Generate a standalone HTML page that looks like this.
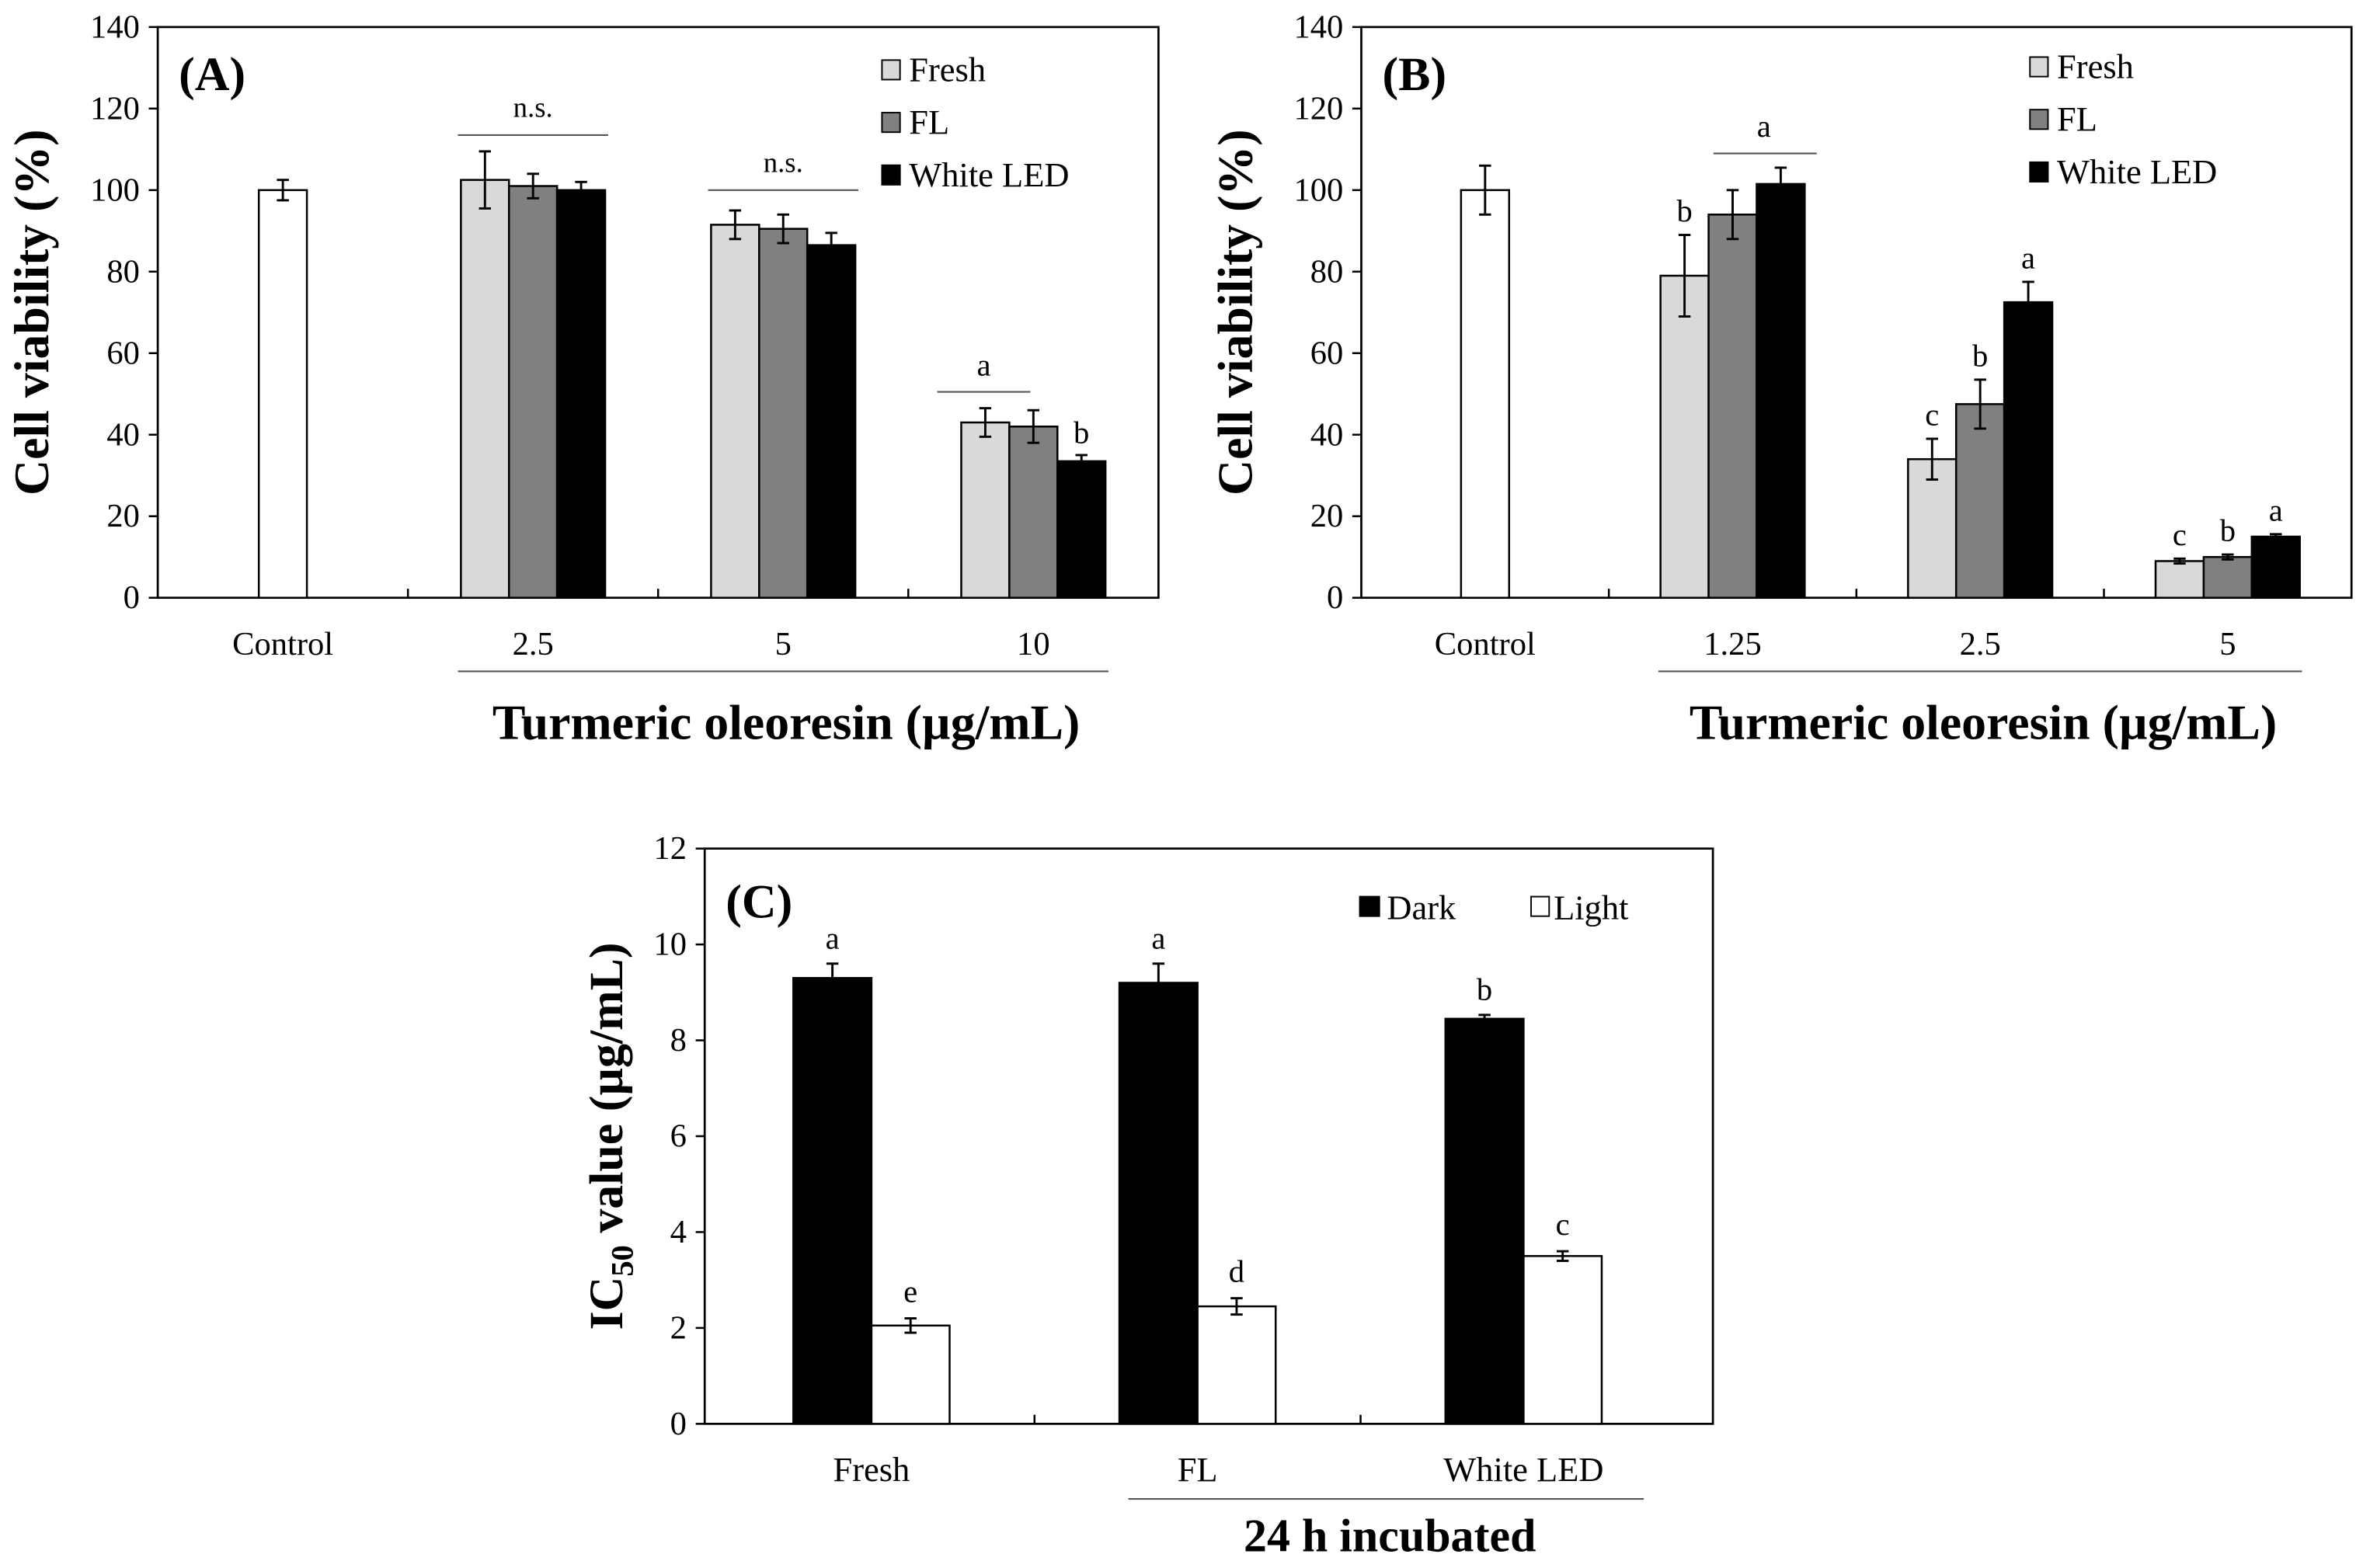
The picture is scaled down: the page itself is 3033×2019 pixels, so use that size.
<!DOCTYPE html>
<html><head><meta charset="utf-8"><style>
html,body{margin:0;padding:0;background:#fff;}
svg{display:block;}
text{font-family:"Liberation Serif","DejaVu Serif",serif;fill:#000;}
</style></head>
<body>
<svg id="fig" width="3033" height="2019" viewBox="0 0 1568 1044" preserveAspectRatio="none" xmlns="http://www.w3.org/2000/svg"></svg>
<script>
// Panel A data
const aCategories = ["Control","2.5","5","10"];
const aControl = [100]; const aControlErr = [2.5];
const aFresh = [102.5, 91.5, 43]; const aFreshErr = [7, 3.5, 3.5];
const aFL = [101, 90.5, 42]; const aFLErr = [3, 3.5, 4];
const aLED = [100, 86.5, 33.5]; const aLEDErr = [2, 3, 1.5];
// Panel B data
const bCategories = ["Control","1.25","2.5","5"];
const bControl = [100]; const bControlErr = [6];
const bFresh = [79, 34, 9]; const bFreshErr = [10, 5, 0.6];
const bFL = [94, 47.5, 10]; const bFLErr = [6, 6, 0.6];
const bLED = [101.5, 72.5, 15]; const bLEDErr = [4, 5, 0.6];
const bLetters = [["b","",""],["c","b","a"],["c","b","a"]];
// Panel C data
const cCategories = ["Fresh","FL","White LED"];
const cDark = [9.3, 9.2, 8.45]; const cDarkErr = [0.3, 0.4, 0.08];
const cLight = [2.05, 2.45, 3.5]; const cLightErr = [0.15, 0.17, 0.1];
const cDarkLetters = ["a","a","b"]; const cLightLetters = ["e","d","c"];
const yTicksAB = [0,20,40,60,80,100,120,140];
const yTicksC = [0,2,4,6,8,10,12];

const svg = document.getElementById('fig');
const NS = 'http://www.w3.org/2000/svg';
const FONT = '"Liberation Serif", "DejaVu Serif", serif';
function mk(tag, attrs, name, txt){
  const e = document.createElementNS(NS, tag);
  for (const k in attrs) e.setAttribute(k, attrs[k]);
  
  
  if (txt !== undefined) e.textContent = txt;
  svg.appendChild(e); return e;
}
function line(x1,y1,x2,y2,name,w,c){ return mk('line',{x1,y1,x2,y2,stroke:c||'#000','stroke-width':w||1.3},name); }
function txt(x,y,s,name,size,anchor,weight){ return mk('text',{x,y,'font-size':size,'font-family':FONT,'text-anchor':anchor||'middle','font-weight':weight||'normal'},name,s); }

function frame(L,R,T,B,ticks,ymax,name){
  const ys = v => B - v/ymax*(B-T);
  mk('rect',{x:L,y:T,width:R-L,height:B-T,fill:'none',stroke:'#000','stroke-width':1.4},name+'-plot-frame');
  ticks.forEach(t=>{
    line(L-6,ys(t),L,ys(t),name+'-y-tick');
    txt(L-12,ys(t)+7,String(t),name+'-y-tick-label',22,'end');
  });
  return ys;
}
function errbar(x,y0,y1,name,cap){
  line(x,y0,x,y1,name,1.5);
  line(x-cap,y0,x+cap,y0,name+'-cap',1.5);
  line(x-cap,y1,x+cap,y1,name+'-cap',1.5);
}
function bar(x,w,v,err,ys,fill,name){
  mk('rect',{x:x,y:ys(v),width:w,height:ys(0)-ys(v),fill:fill,stroke:'#000','stroke-width':1.3},name);
  errbar(x+w/2,ys(v+err),ys(v-err),name+'-error-bar',4);
}

function panelAB(p){
  const {L,R,T,B,cats,ctrl,ctrlE,series,errs,label,leg,name}=p;
  const ys = frame(L,R,T,B,yTicksAB,140,name);
  const step=(R-L)/4, bw=32;
  for(let i=1;i<4;i++) line(L+step*i,B,L+step*i,B-6,name+'-x-tick');
  cats.forEach((c,i)=>txt(L+step*(i+0.5),B+38,c,name+'-x-label',22));
  const cx0=L+step*0.5;
  bar(cx0-bw/2,bw,ctrl[0],ctrlE[0],ys,'#fff',name+'-bar-control');
  const fills=['#d9d9d9','#808080','#000'], snames=['fresh','fl','white-led'];
  series.forEach((s,si)=>s.forEach((v,gi)=>{
    const cx=L+step*(gi+1.5);
    bar(cx-1.5*bw+si*bw,bw,v,errs[si][gi],ys,fills[si],name+'-bar-'+snames[si]+'-'+(gi+1));
  }));
  line(L+step*1.2,B+49,R-step*0.2,B+49,name+'-x-group-bracket',1.1,'#555');
  txt(L+step*2.5+2,B+94,'Turmeric oleoresin (µg/mL)',name+'-x-axis-title',33,'middle','bold');
  mk('text',{x:0,y:0,'font-size':33,'font-family':FONT,'text-anchor':'middle','font-weight':'bold',transform:`translate(${L-73},${(T+B)/2}) rotate(-90)`},name+'-y-axis-title','Cell viability (%)');
  txt(L+14,T+42,label,name+'-panel-label',32,'start','bold');
  ['Fresh','FL','White LED'].forEach((s,i)=>{
    mk('rect',{x:leg.x,y:leg.y+i*35,width:12,height:13,fill:fills[i],stroke:'#000','stroke-width':1},name+'-legend-swatch-'+snames[i]);
    txt(leg.x+18,leg.y+i*35+14,s,name+'-legend-label-'+snames[i],23,'start');
  });
  return {ys,step,bw};
}

// Panel A
const A = panelAB({L:105,R:771,T:18,B:398,cats:aCategories,ctrl:aControl,ctrlE:aControlErr,
  series:[aFresh,aFL,aLED],errs:[aFreshErr,aFLErr,aLEDErr],label:'(A)',leg:{x:587,y:40},name:'panel-a'});
(function(){
  const L=105, s=A.step, ys=A.ys;
  [[1,113.5],[2,100]].forEach(([g,v])=>{
    const cx=L+s*(g+0.5);
    line(cx-50,ys(v),cx+50,ys(v),'panel-a-ns-line',1.1,'#555');
    txt(cx,ys(v)-12,'n.s.','panel-a-ns-label',19);
  });
  const cx=L+s*3.5;
  line(cx-64,ys(50.5),cx-2,ys(50.5),'panel-a-sig-line',1.1,'#555');
  txt(cx-33,ys(50.5)-11,'a','panel-a-sig-letter',21);
  txt(cx+32,ys(aLED[2]+aLEDErr[2])-8,'b','panel-a-sig-letter',21);
})();

// Panel B
const Bp = panelAB({L:906,R:1565,T:18,B:398,cats:bCategories,ctrl:bControl,ctrlE:bControlErr,
  series:[bFresh,bFL,bLED],errs:[bFreshErr,bFLErr,bLEDErr],label:'(B)',leg:{x:1351,y:38},name:'panel-b'});
(function(){
  const L=906, s=Bp.step, ys=Bp.ys, bw=Bp.bw;
  const ser=[bFresh,bFL,bLED], er=[bFreshErr,bFLErr,bLEDErr];
  for(let g=0;g<3;g++) for(let si=0;si<3;si++){
    const l=bLetters[g][si]; if(!l) continue;
    const cx=L+s*(g+1.5)-bw+si*bw;
    txt(cx,ys(ser[si][g]+er[si][g])-9,l,'panel-b-sig-letter',21);
  }
  const cx=L+s*1.5;
  line(cx-bw*0.4,ys(109),cx+bw*1.75,ys(109),'panel-b-sig-line',1.1,'#555');
  txt(cx+bw*0.65,ys(109)-11,'a','panel-b-sig-letter',21);
})();

// Panel C
(function(){
  const L=469,R=1140,T=565,B=948,name='panel-c';
  const ys = frame(L,R,T,B,yTicksC,12,name);
  const c0=580, step=217, bw=52;
  [c0+step/2, c0+step*1.5].forEach(x=>line(x,B,x,B-6,name+'-x-tick'));
  cCategories.forEach((c,i)=>txt(c0+step*i,B+38,c,name+'-x-label',23));
  cCategories.forEach((c,i)=>{
    const cx=c0+step*i;
    bar(cx-bw,bw,cDark[i],cDarkErr[i],ys,'#000',name+'-bar-dark-'+(i+1));
    bar(cx,bw,cLight[i],cLightErr[i],ys,'#fff',name+'-bar-light-'+(i+1));
    txt(cx-bw/2,ys(cDark[i]+cDarkErr[i])-10,cDarkLetters[i],name+'-sig-letter',21);
    txt(cx+bw/2,ys(cLight[i]+cLightErr[i])-11,cLightLetters[i],name+'-sig-letter',21);
  });
  line(751,998,1094,998,name+'-x-group-bracket',1.1,'#555');
  txt(925,1033,'24 h incubated',name+'-x-axis-title',31,'middle','bold');
  const t=mk('text',{x:0,y:0,'font-size':32,'font-family':FONT,'text-anchor':'middle','font-weight':'bold',transform:`translate(414,${(T+B)/2}) rotate(-90)`},name+'-y-axis-title');
  t.appendChild(document.createTextNode('IC'));
  const sub=document.createElementNS(NS,'tspan'); sub.setAttribute('font-size','21'); sub.setAttribute('dy','7'); sub.textContent='50';
  
  
  t.appendChild(sub);
  const rest=document.createElementNS(NS,'tspan'); rest.setAttribute('dy','-7'); rest.textContent=' value (µg/mL)';
  
  
  t.appendChild(rest);
  txt(L+14,T+46,'(C)',name+'-panel-label',32,'start','bold');
  mk('rect',{x:905,y:597,width:13,height:13,fill:'#000',stroke:'#000'},name+'-legend-swatch-dark');
  txt(923,612,'Dark',name+'-legend-label-dark',23,'start');
  mk('rect',{x:1019,y:597,width:12,height:13,fill:'#fff',stroke:'#000'},name+'-legend-swatch-light');
  txt(1034,612,'Light',name+'-legend-label-light',23,'start');
})();
</script>
</body></html>
